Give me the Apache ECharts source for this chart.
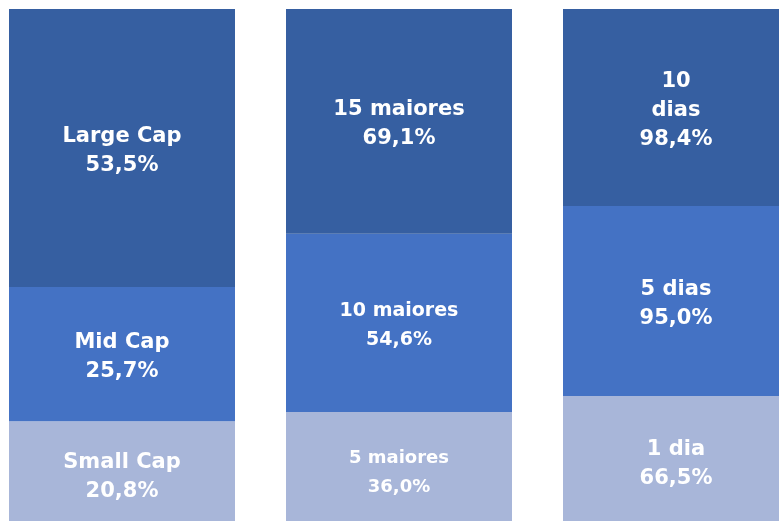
<!DOCTYPE html>
<html>
<head>
<meta charset="utf-8">
<script src="https://cdn.jsdelivr.net/npm/echarts@6/dist/echarts.min.js"></script>
<style>
  html, body { margin: 0; padding: 0; background: #fff; }
  #chart { width: 779px; height: 521px; }
</style>
</head>
<body>
<div id="chart"></div>
<script>
// three stacked bars, segment heights (share of bar, %)
var groups = ['Capitalização', 'Concentração', 'Liquidez'];

var bottomHeights = [19.5, 21.3, 24.4];
var middleHeights = [26.2, 34.8, 37.1];
var topHeights = [54.3, 43.9, 38.5];

// label texts shown inside each segment
var bottomNames = ['Small Cap', '5 maiores', '1 dia'];
var bottomValues = ['20,8%', '36,0%', '66,5%'];
var middleNames = ['Mid Cap', '10 maiores', '5 dias'];
var middleValues = ['25,7%', '54,6%', '95,0%'];
var topNames = ['Large Cap', '15 maiores', '10\ndias'];
var topValues = ['53,5%', '69,1%', '98,4%'];

// font size per bar column
var fontSizes = {
  bottom: [21, 18, 21],
  middle: [21, 19, 21],
  top: [21, 21, 21]
};

function makeSeries(name, heights, names, values, color, sizes, dy) {
  return {
    name: name,
    type: 'bar',
    stack: 'total',
    barWidth: 226,
    clip: false,
    itemStyle: { color: color },
    data: heights.map(function (h, i) {
      return {
        value: h,
        label: {
          show: true,
          position: 'inside',
          offset: [0, dy],
          color: '#fff',
          fontWeight: 'bold',
          fontFamily: 'DejaVu Sans',
          fontSize: sizes[i],
          lineHeight: 29,
          formatter: names[i] + '\n' + values[i]
        }
      };
    })
  };
}

var chart = echarts.init(document.getElementById('chart'));
chart.setOption({
  animation: false,
  grid: { left: 122, width: 554, top: 9, bottom: 0, containLabel: false },
  xAxis: {
    type: 'category',
    data: groups,
    boundaryGap: false,
    show: false
  },
  yAxis: {
    type: 'value',
    min: 0,
    max: 100,
    show: false
  },
  series: [
    makeSeries('base', bottomHeights, bottomNames, bottomValues, '#A8B6D9', fontSizes.bottom, 6),
    makeSeries('meio', middleHeights, middleNames, middleValues, '#4472C4', fontSizes.middle, 3),
    makeSeries('topo', topHeights, topNames, topValues, '#365FA1', fontSizes.top, 3)
  ]
});
</script>
</body>
</html>
